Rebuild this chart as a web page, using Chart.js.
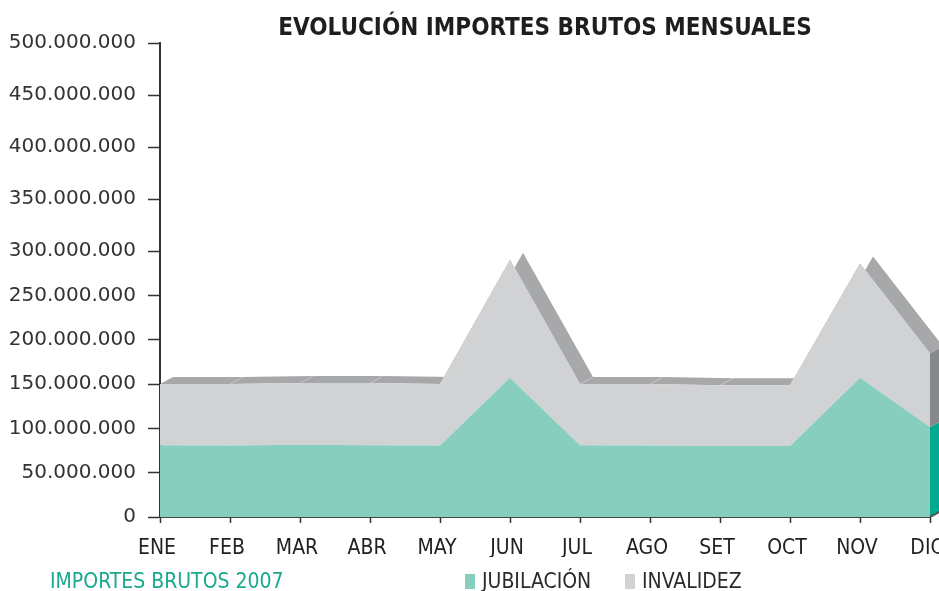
<!DOCTYPE html>
<html>
<head>
<meta charset="utf-8">
<script src="https://cdn.jsdelivr.net/npm/chart.js@4.4.1/dist/chart.umd.min.js"></script>
<style>
  html, body { margin: 0; padding: 0; background: #fff; }
  #wrap { position: relative; width: 939px; height: 591px; overflow: hidden; }
  #chart { position: absolute; left: 0; top: 0; }
  .narrow { font-family: 'Liberation Sans Narrow', 'DejaVu Sans Condensed', sans-serif; }
  #title { position: absolute; left: 545px; top: 13px; transform: translateX(-50%); white-space: nowrap;
           font-size: 24px; font-weight: bold; color: #1e1e1e; }
  #source { position: absolute; left: 50px; top: 569px; font-size: 21px; color: #1aa98c; }
  .key { position: absolute; top: 569px; font-size: 21px; color: #2a2a2a; white-space: nowrap; }
  .key i { display: inline-block; width: 10px; height: 15px; margin-right: 7px; vertical-align: -1px; }
</style>
</head>
<body>
<div id="wrap">
  <canvas id="chart" width="939" height="591"></canvas>
  <div id="title" class="narrow">EVOLUCIÓN IMPORTES BRUTOS MENSUALES</div>
  <div id="source" class="narrow">IMPORTES BRUTOS 2007</div>
  <div class="key narrow" style="left:465px"><i style="background:#88cebf"></i>JUBILACIÓN</div>
  <div class="key narrow" style="left:625px"><i style="background:#d1d2d4"></i>INVALIDEZ</div>
</div>
<script>
const months = ['ENE', 'FEB', 'MAR', 'ABR', 'MAY', 'JUN', 'JUL', 'AGO', 'SET', 'OCT', 'NOV', 'DIC'];
// importes brutos mensuales (en millones)
const jubilacion = [81, 80.5, 81.5, 81, 80.5, 157, 81, 80.5, 80, 80, 157, 101.5];
const invalidez = [69, 69.5, 69.5, 70, 69.5, 133, 69, 69.5, 68.5, 68.5, 129, 83];
const yTicks = [0, 50, 100, 150, 200, 250, 300, 350, 400, 450, 500];

// the original axis is drawn with a tighter step below 300.000.000
const yBreak = 300e6;
const yBreakDecimal = 266 / 474;
const depth = { dx: 13, dy: -7 };

class BrokenScale extends Chart.LinearScale {
    getPixelForValue(value) {
        if (value === null || value === undefined) return NaN;
        let d;
        if (value <= yBreak) d = (value - this.min) / (yBreak - this.min) * yBreakDecimal;
        else d = yBreakDecimal + (value - yBreak) / (this.max - yBreak) * (1 - yBreakDecimal);
        return this.getPixelForDecimal(d);
    }
    getValueForPixel(pixel) {
        const d = this.getDecimalForPixel(pixel);
        if (d <= yBreakDecimal) return this.min + d / yBreakDecimal * (yBreak - this.min);
        return yBreak + (d - yBreakDecimal) / (1 - yBreakDecimal) * (this.max - yBreak);
    }
}
BrokenScale.id = 'broken';
BrokenScale.defaults = Chart.LinearScale.defaults;
Chart.register(BrokenScale);

function formatMiles(v) {
    return String(Math.round(v)).replace(/\B(?=(\d{3})+(?!\d))/g, '.');
}

function poly(ctx, pts, color) {
    ctx.beginPath();
    ctx.moveTo(pts[0][0], pts[0][1]);
    for (let i = 1; i < pts.length; i++) ctx.lineTo(pts[i][0], pts[i][1]);
    ctx.closePath();
    ctx.fillStyle = color;
    ctx.fill();
}

// 3D look: the top band behind the areas, the right side face and the floor
const depthPlugin = {
    id: 'depth',
    beforeDraw(chart) {
        const ctx = chart.ctx;
        const top = chart.getDatasetMeta(1).data;
        const front = top.map(p => [p.x, p.y]);
        const back = top.map(p => [p.x + depth.dx, p.y + depth.dy]);
        ctx.save();
        poly(ctx, front.concat(back.slice().reverse()), '#a7a8aa');
        ctx.strokeStyle = 'rgba(255,255,255,0.35)';
        ctx.lineWidth = 1;
        for (let i = 1; i < front.length - 1; i++) {
            ctx.beginPath();
            ctx.moveTo(front[i][0], front[i][1]);
            ctx.lineTo(back[i][0], back[i][1]);
            ctx.stroke();
        }
        ctx.restore();
    },
    afterDatasetsDraw(chart) {
        const ctx = chart.ctx;
        const y = chart.scales.y;
        const n = months.length - 1;
        const pj = chart.getDatasetMeta(0).data[n];
        const pt = chart.getDatasetMeta(1).data[n];
        const x = pj.x, base = y.getPixelForValue(0);
        const { dx, dy } = depth;
        ctx.save();
        poly(ctx, [[x, base], [x, pj.y], [x + dx, pj.y + dy], [x + dx, base + dy]], '#00aa8e');
        poly(ctx, [[x, pj.y], [x, pt.y], [x + dx, pt.y + dy], [x + dx, pj.y + dy]], '#87888b');
        ctx.strokeStyle = '#555';
        ctx.lineWidth = 2;
        ctx.beginPath();
        ctx.moveTo(x, base);
        ctx.lineTo(x + dx, base + dy);
        ctx.stroke();
        ctx.restore();
    }
};

const narrowFont = "'Liberation Sans Narrow', 'DejaVu Sans Condensed', sans-serif";

new Chart(document.getElementById('chart'), {
    type: 'line',
    data: {
        labels: months,
        datasets: [
            {
                label: 'JUBILACIÓN',
                data: jubilacion.map(v => v * 1e6),
                backgroundColor: '#88cebf',
                fill: 'origin'
            },
            {
                label: 'INVALIDEZ',
                data: invalidez.map(v => v * 1e6),
                backgroundColor: '#d1d2d4',
                fill: '-1'
            }
        ]
    },
    options: {
        responsive: false,
        animation: false,
        layout: { padding: { top: 43, right: 9, bottom: 34, left: 0 } },
        elements: {
            line: { borderWidth: 0, tension: 0 },
            point: { radius: 0 }
        },
        plugins: {
            legend: { display: false },
            title: { display: false },
            tooltip: { enabled: false }
        },
        scales: {
            x: {
                offset: false,
                grid: { drawOnChartArea: false, tickLength: 6, color: '#333', tickWidth: 1.5 },
                border: { color: '#444', width: 2 },
                ticks: {
                    autoSkip: false, maxRotation: 0, padding: 13, labelOffset: -3,
                    color: '#222', font: { family: narrowFont, size: 21 }
                },
                afterFit(scale) {
                    scale.height = 40;
                    scale.paddingLeft = 0;
                    scale.paddingRight = 0;
                }
            },
            y: {
                type: 'broken',
                stacked: true,
                min: 0,
                max: 500e6,
                afterBuildTicks(scale) {
                    scale.ticks = yTicks.map(v => ({ value: v * 1e6 }));
                },
                grid: { drawOnChartArea: false, tickLength: 12, color: '#333', tickWidth: 1.5 },
                border: { color: '#333', width: 2 },
                ticks: {
                    padding: 12,
                    color: '#333',
                    font: { family: "'DejaVu Sans', sans-serif", size: 20 },
                    callback: v => formatMiles(v)
                },
                afterFit(scale) {
                    scale.width = 160;
                }
            }
        }
    },
    plugins: [depthPlugin]
});
</script>
</body>
</html>
